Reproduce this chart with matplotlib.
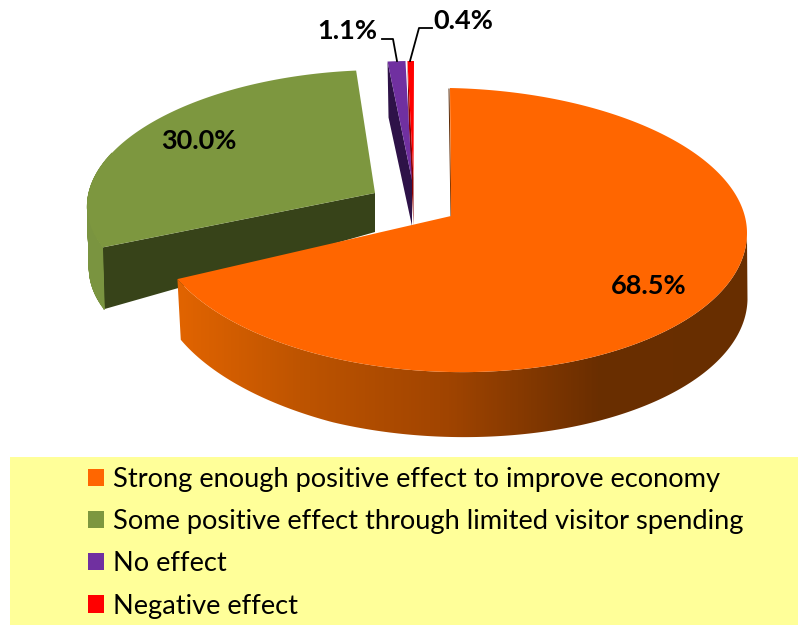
import numpy as np
import matplotlib.pyplot as plt
from matplotlib.collections import PolyCollection
from matplotlib.patches import Patch, Polygon, Rectangle

plt.rcParams['font.family'] = ['Lato', 'DejaVu Sans']

categories = ['Strong enough positive effect to improve economy',
              'Some positive effect through limited visitor spending',
              'No effect',
              'Negative effect']
shares = [68.5, 30.0, 1.1, 0.4]
pct_labels = ['68.5%', '30.0%', '1.1%', '0.4%']
top_colors = ['#FF6600', '#7D973F', '#7030A0', '#FF0000']
cut_colors = ['#5A2600', '#374319', '#2E1248', '#8A0000']

edges = np.cumsum([0] + shares) / 100 * 360


def rim(theta, s):
    t = np.radians(theta)
    x = s['cx'] + s['a'] * np.sin(t) + s['skew'] * np.cos(t)
    b = np.where(np.cos(t) > 0, s['b_back'], s['b_front'])
    y = s['cy'] - b * np.cos(t) + s['tilt'] * np.sin(t)
    return x, y


def draw_slice(ax, i, s):
    th = np.linspace(edges[i], edges[i + 1], 300)
    x, y = rim(th, s)
    apex = s['apex']
    # cut face at the start of the slice
    if i > 0:
        ax.fill([x[0], x[0] + s['shift'], apex[0], apex[0]],
                [y[0], y[0] + s['rim_left'], apex[1] + s['apex_depth'], apex[1]],
                color=cut_colors[i], lw=0, zorder=s['z'])
    # outer wall
    xb = x * s['shrink'] + s['cx'] * (1 - s['shrink']) + s['shift']
    yb = y + np.interp(x, [s['cx'] - s['a'], s['cx'] - 120], [s['rim_left'], s['rim_depth']])
    if i == 0:
        # orange wall gets darker going to the right, back part is hidden
        keep = th >= 90
        wall = Polygon(np.r_[np.c_[x[keep], y[keep]], np.c_[xb[keep], yb[keep]][::-1]], closed=True,
                       facecolor='none', edgecolor='none', transform=ax.transData)
        ax.add_patch(wall)
        grad_x = np.linspace(177, 750, 300)
        r = np.interp(grad_x, [177, 300, 450, 600, 750], [226, 190, 160, 106, 104])
        g = np.interp(grad_x, [177, 300, 450, 600, 750], [100, 84, 68, 46, 46])
        rgb = np.dstack([r, g, np.zeros_like(r)]).astype(np.uint8)
        im = ax.imshow(rgb, extent=(177, 750, 445, 220), aspect='auto', zorder=s['z'], interpolation='bilinear')
        im.set_clip_path(wall)
    else:
        quads = [[(x[k], y[k]), (x[k + 1], y[k + 1]), (xb[k + 1], yb[k + 1]), (xb[k], yb[k])]
                 for k in range(len(th) - 1) if 90 <= th[k] <= 290]
        ax.add_collection(PolyCollection(quads, facecolors=s['wall'], edgecolors=s['wall'], lw=0.5, zorder=s['z']))
    # top face
    ax.fill(np.r_[apex[0], x], np.r_[apex[1], y], color=top_colors[i], lw=0, zorder=s['z'] + 0.1)


slices = [
    dict(cx=450, cy=227, a=297, b_back=139, b_front=145, skew=0, tilt=6, apex=(451, 216),
         rim_depth=65, rim_left=60, apex_depth=0, shrink=0.995, shift=2, wall='#A04800', z=4),
    dict(cx=362, cy=197, a=274, b_back=127, b_front=127, skew=20, tilt=0, apex=(375, 193),
         rim_depth=62, rim_left=62, apex_depth=39, shrink=0.995, shift=0.5, wall='#7A9440', z=3),
    dict(cx=412, cy=180, a=260, b_back=119, b_front=119, skew=0, tilt=0, apex=(412, 180),
         rim_depth=56, rim_left=56, apex_depth=46, shrink=1, shift=1, wall='#2E1248', z=2),
    dict(cx=414, cy=180, a=260, b_back=119, b_front=119, skew=0, tilt=0, apex=(413.5, 178),
         rim_depth=56, rim_left=56, apex_depth=48, shrink=1, shift=1, wall='#8A0000', z=1.5),
]

fig = plt.figure(figsize=(7.98, 6.25), dpi=100)
ax = fig.add_axes([0, 0, 1, 1])

for i, s in enumerate(slices):
    draw_slice(ax, i, s)
ax.plot([449, 451], [89, 216], color='#5A2600', lw=0.7, zorder=3.9)

ax.set_xlim(0, 798)
ax.set_ylim(625, 0)
ax.axis('off')

# percent labels
label_pos = [(649, 286), (199, 141), (347.5, 31), (463.5, 21)]
for txt, (lx, ly) in zip(pct_labels, label_pos):
    ax.text(lx, ly, txt, fontsize=19.5, fontweight='bold', ha='center', va='center', color='black', zorder=6)

# leader lines for the small slices
ax.plot([382, 393, 397], [39, 39, 61], color='black', lw=1.3, zorder=6)
ax.plot([432, 419, 410], [28, 28, 61], color='black', lw=1.3, zorder=6)

# legend on yellow band
ax.add_patch(Rectangle((10, 457), 788, 168, facecolor='#FFFF99', edgecolor='none', zorder=0))
handles = [Patch(facecolor=c, edgecolor='none', label=n) for c, n in zip(top_colors, categories)]
ax.legend(handles=handles, loc='upper left', bbox_to_anchor=(88 / 798, 1 - 467 / 625), frameon=False,
          fontsize=19.65, handlelength=0.6, handleheight=0.6, handletextpad=0.3, labelspacing=0.63,
          borderpad=0, borderaxespad=0, labelcolor='black')

fig.savefig('out.png', dpi=100)
